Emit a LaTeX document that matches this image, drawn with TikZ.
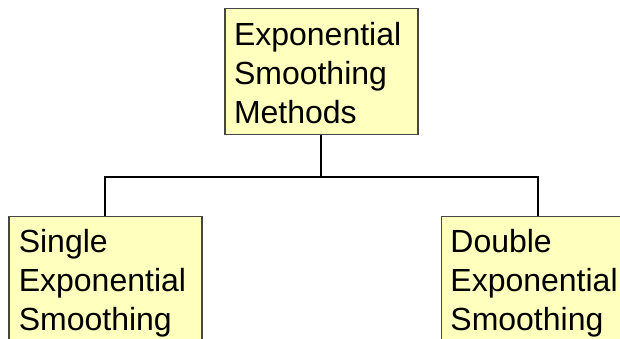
\documentclass[tikz,border=0pt]{standalone}
\usepackage{fontspec}
\setmainfont{Liberation Sans}
\usetikzlibrary{calc}
\definecolor{boxfill}{RGB}{255,255,190}
\definecolor{boxline}{RGB}{70,70,70}
\begin{document}
\begin{tikzpicture}[x=1pt,y=-1pt,
  box/.style={draw=boxline, line width=1.2pt, fill=boxfill, anchor=north west, inner sep=0pt, minimum width=193pt},
  txt/.style={anchor=north west, inner sep=0pt, align=left, font=\fontsize{32}{39}\selectfont},
  conn/.style={draw=black, line width=2pt}]
\useasboundingbox (0,0) rectangle (620,339);
\node[box, minimum height=126.5pt] (top) at (224.3,7.7) {};
\node[box, minimum height=140pt] (sl) at (8.3,216) {};
\node[box, minimum height=140pt] (sr) at (440.7,216) {};
\node[txt] (ttop) at ([xshift=9.5pt,yshift=-14pt]top.north west) {Exponential\\Smoothing\\Methods};
\node[txt] (tsl) at ([xshift=10.3pt,yshift=-13.5pt]sl.north west) {Single\\Exponential\\Smoothing};
\node[txt] (tsr) at ([xshift=9.5pt,yshift=-13.5pt]sr.north west) {Double\\Exponential\\Smoothing};
\coordinate (mid) at ($(top.south)+(0,42)$);
\draw[conn] (top.south) -- (mid);
\draw[conn] (sl.north) |- (mid) -| (sr.north);
\end{tikzpicture}
\end{document}
